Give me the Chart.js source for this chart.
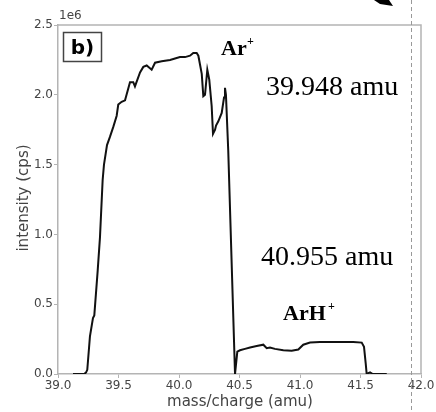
<!DOCTYPE html>
<html>
<head>
<meta charset="utf-8">
<script src="https://cdn.jsdelivr.net/npm/chart.js@4.4.1/dist/chart.umd.min.js"></script>
<style>
html,body{margin:0;padding:0;background:#fff;}
#wrap{width:436px;height:412px;position:relative;}
</style>
</head>
<body>
<div id="wrap"><canvas id="c" width="436" height="412"></canvas></div>
<script>
// mass/charge (amu)
const massCharge = [39.124,39.215,39.231,39.242,39.264,39.289,39.300,39.328,39.347,39.369,39.380,39.405,39.430,39.457,39.485,39.498,39.526,39.554,39.595,39.622,39.636,39.678,39.705,39.733,39.774,39.802,39.857,39.926,39.967,40.008,40.050,40.091,40.118,40.146,40.160,40.188,40.201,40.215,40.234,40.250,40.270,40.281,40.298,40.306,40.325,40.353,40.372,40.380,40.388,40.407,40.463,40.482,40.504,40.545,40.587,40.642,40.697,40.725,40.752,40.793,40.862,40.931,40.986,41.027,41.083,41.165,41.303,41.440,41.510,41.529,41.543,41.551,41.579,41.601,41.717];
// intensity (cps), in units of 1e6
const intensityE6 = [0,0,0.01,0.03,0.27,0.40,0.42,0.74,0.98,1.39,1.50,1.64,1.70,1.77,1.85,1.93,1.95,1.96,2.09,2.09,2.06,2.16,2.20,2.21,2.18,2.23,2.24,2.25,2.26,2.27,2.27,2.28,2.30,2.30,2.28,2.15,1.99,2.00,2.18,2.11,1.92,1.72,1.75,1.78,1.81,1.87,1.98,2.05,2.00,1.60,0.0,0.16,0.17,0.18,0.19,0.20,0.21,0.185,0.19,0.18,0.17,0.167,0.175,0.21,0.225,0.23,0.23,0.23,0.225,0.195,0.076,0.0,0.012,0,0];
const xTicks = [39.0,39.5,40.0,40.5,41.0,41.5,42.0];
const yTicks = [0.0,0.5,1.0,1.5,2.0,2.5];
const referenceMass = 41.917; // dashed marker line

const points = massCharge.map((m,i)=>({x:m,y:intensityE6[i]}));

const decor = {
  id:'decor',
  afterDraw(chart){
    const ctx = chart.ctx;
    const a = chart.chartArea;
    const xs = chart.scales.x;
    ctx.save();
    // top & right spines
    ctx.strokeStyle = '#b4b4b4';
    ctx.lineWidth = 1.5;
    ctx.beginPath();
    ctx.moveTo(a.left, a.top); ctx.lineTo(a.right, a.top); ctx.lineTo(a.right, a.bottom);
    ctx.stroke();
    // dashed marker line
    const dx = Math.round(xs.getPixelForValue(referenceMass)) + 0.5;
    ctx.strokeStyle = '#999';
    ctx.lineWidth = 1;
    ctx.setLineDash([4,3]);
    ctx.beginPath(); ctx.moveTo(dx, 0); ctx.lineTo(dx, chart.height); ctx.stroke();
    ctx.setLineDash([]);
    // arrow head at top
    ctx.fillStyle = '#000';
    ctx.beginPath();
    ctx.moveTo(374,0); ctx.lineTo(389,0); ctx.lineTo(393,6); ctx.lineTo(380,4); ctx.closePath();
    ctx.fill();
    // offset label
    ctx.fillStyle = '#444';
    ctx.font = '12px "DejaVu Sans"';
    ctx.textAlign = 'left'; ctx.textBaseline = 'alphabetic';
    ctx.fillText('1e6', a.left + 1, 19);
    // b) box
    ctx.strokeStyle = '#444'; ctx.lineWidth = 1.5;
    ctx.strokeRect(63.5, 32.5, 38, 29);
    ctx.fillStyle = '#000';
    ctx.font = 'bold 20px "DejaVu Sans"';
    ctx.textAlign = 'center';
    ctx.fillText('b)', 82.5, 54);
    // axis titles
    ctx.fillStyle = '#444';
    ctx.font = '15px "DejaVu Sans"';
    ctx.textAlign = 'center';
    ctx.fillText('mass/charge (amu)', 240, 406);
    ctx.save();
    ctx.translate(28, 198);
    ctx.rotate(-Math.PI/2);
    ctx.fillText('intensity (cps)', 0, 0);
    ctx.restore();
    // annotations
    ctx.fillStyle = '#000';
    ctx.textAlign = 'left';
    ctx.font = 'bold 22px "Liberation Serif"';
    ctx.fillText('Ar', 221, 55);
    ctx.font = 'bold 12px "Liberation Serif"';
    ctx.fillText('+', 247, 45);
    ctx.font = '28px "Liberation Serif"';
    ctx.fillText('39.948 amu', 266, 95);
    ctx.fillText('40.955 amu', 261, 265);
    ctx.font = 'bold 22px "Liberation Serif"';
    ctx.fillText('ArH', 283, 320);
    ctx.font = 'bold 12px "Liberation Serif"';
    ctx.fillText('+', 328, 310);
    ctx.restore();
  }
};

new Chart(document.getElementById('c'), {
  type:'line',
  data:{datasets:[{data:points,borderColor:'#111',borderWidth:2,pointRadius:0,tension:0,fill:false}]},
  options:{
    responsive:false,animation:false,
    layout:{padding:{left:0,right:15,top:25,bottom:0}},
    plugins:{legend:{display:false},tooltip:{enabled:false}},
    scales:{
      x:{type:'linear',min:39,max:42,
        afterFit(s){s.height=38;},
        afterBuildTicks(s){s.ticks = xTicks.map(v=>({value:v}));},
        ticks:{callback:v=>v.toFixed(1),color:'#444',font:{family:'DejaVu Sans',size:12},padding:1,maxRotation:0,autoSkip:false},
        grid:{drawOnChartArea:false,drawTicks:true,tickLength:4,color:'#b4b4b4'},
        border:{display:true,color:'#b4b4b4',width:1.5}},
      y:{type:'linear',min:0,max:2.5,
        afterFit(s){s.width=58;},
        afterBuildTicks(s){s.ticks = yTicks.map(v=>({value:v}));},
        ticks:{callback:v=>v.toFixed(1),color:'#444',font:{family:'DejaVu Sans',size:12},padding:1,autoSkip:false},
        grid:{drawOnChartArea:false,drawTicks:true,tickLength:4,color:'#b4b4b4'},
        border:{display:true,color:'#b4b4b4',width:1.5}}
    }
  },
  plugins:[decor]
});
</script>
</body>
</html>
